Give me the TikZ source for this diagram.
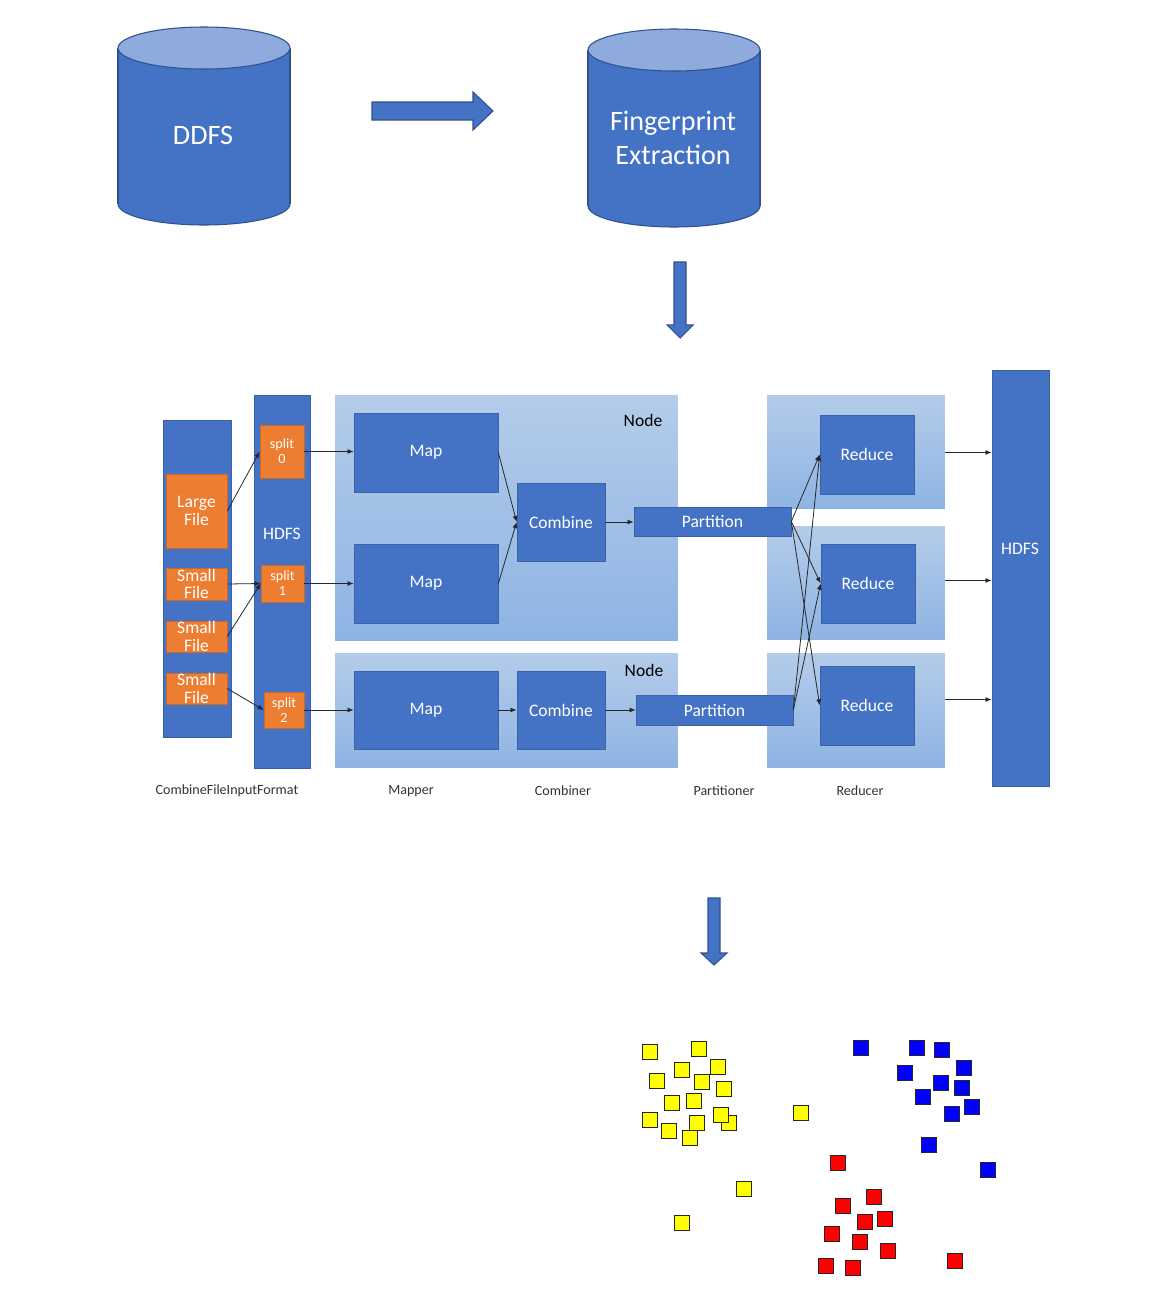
\documentclass[tikz,border=0pt]{standalone}
\usepackage{fontspec}
\setmainfont{Carlito}
\usetikzlibrary{positioning,arrows.meta,calc}

\definecolor{boxblue}{HTML}{4472C4}
\definecolor{edgeblue}{HTML}{2F528F}
\definecolor{capblue}{HTML}{8FAADC}
\definecolor{fileorange}{HTML}{ED7D31}
\definecolor{nodetop}{HTML}{B4CCEA}
\definecolor{nodebot}{HTML}{8EB4E3}
\definecolor{labelgray}{HTML}{333333}
\definecolor{dotyellow}{HTML}{FFFF00}
\definecolor{dotblue}{HTML}{0000FF}
\definecolor{dotred}{HTML}{FF0000}

% database drum: centre x, top y, bottom y
\newcommand{\datacyl}[3]{%
  \fill[boxblue] (#1-86,#2+21) rectangle (#1+86,#3-21);
  \fill[boxblue] (#1,#3-21) ellipse (86 and 21);
  \begin{scope}
    \clip (#1-90,#3-21) rectangle (#1+90,#3+5);
    \draw[edgeblue, line width=0.6pt] (#1,#3-21) ellipse (86 and 21);
  \end{scope}
  \draw[edgeblue, line width=0.6pt] (#1-86,#2+21) -- (#1-86,#3-21)
    (#1+86,#2+21) -- (#1+86,#3-21);
  \draw[edgeblue, line width=0.6pt, fill=capblue] (#1,#2+21) ellipse (86 and 21);
}

\begin{document}
\begin{tikzpicture}[x=0.02cm, y=-0.02cm]

        % one unit is one pixel of the reference, y grows downwards
        \tikzset{
            blockbox/.style={draw=edgeblue!50!boxblue, line width=0.4pt, fill=boxblue,
                text=white, inner sep=0pt, align=center, font=\fontsize{10}{10.5}\selectfont},
            filebox/.style={fill=fileorange, draw=fileorange!85!black, line width=0.3pt,
                text=white, inner sep=0pt, align=center, font=\fontsize{10}{10}\selectfont},
            splitbox/.style={filebox, font=\fontsize{8}{8.5}\selectfont},
            nodebg/.style={top color=nodetop, bottom color=nodebot, draw=none, inner sep=0pt},
            link/.style={-{Latex[length=3.5pt,width=2.8pt]}, line width=0.45pt, black!85},
            steplabel/.style={text=labelgray, font=\fontsize{8}{8}\selectfont},
            bigarrow/.style={fill=boxblue, draw=edgeblue, line width=0.6pt},
            dot/.style={draw=black!85, line width=1pt, minimum size=0.3cm, inner sep=0pt},
        }

        \useasboundingbox (0,0) rectangle (1159,1295);

        % Top row: source and extraction
        \datacyl{204}{27}{225}
        \datacyl{674}{29}{227}
        \node[text=white, font=\fontsize{16}{19.5}\selectfont] (ddfs) at (203,135) {DDFS};
        \node[text=white, align=center, font=\fontsize{16}{19.5}\selectfont] (fpx)
            at (673,138) {Fingerprint\\Extraction};

        \draw[bigarrow] (372,102) -- (473,102) -- (473,92) -- (493,111) -- (473,130)
            -- (473,120) -- (372,120) -- cycle;
        \draw[bigarrow] (674,262) -- (686,262) -- (686,325) -- (693,325) -- (680,338)
            -- (667,325) -- (674,325) -- cycle;

        % Backgrounds of the two nodes and the reducers
        \node[nodebg, minimum width=6.86cm, minimum height=4.92cm] (nodeA) at (506.5,518) {};
        \node[nodebg, minimum width=6.86cm, minimum height=2.30cm] (nodeB) at (506.5,710.5) {};
        \node[nodebg, minimum width=3.56cm, minimum height=2.28cm] (rbg1) at (856,452) {};
        \node[nodebg, minimum width=3.56cm, minimum height=2.28cm] (rbg2) at (856,583) {};
        \node[nodebg, minimum width=3.56cm, minimum height=2.30cm] (rbg3) at (856,710.5) {};
        \node[font=\fontsize{10}{10}\selectfont] (nodeAlbl) at (643,420) {Node};
        \node[font=\fontsize{10}{10}\selectfont] (nodeBlbl) at (644,670) {Node};

        % Input format and HDFS columns
        \node[blockbox, minimum width=1.36cm, minimum height=6.34cm] (infmt) at (197,578.5) {};
        \node[blockbox, minimum width=1.12cm, minimum height=7.46cm] (hdfsL) at (282,581.5) {};
        \node[text=white, font=\fontsize{10}{10}\selectfont] (hdfsLtxt) at (282,534) {HDFS};
        \node[blockbox, minimum width=1.14cm, minimum height=8.32cm] (hdfsR) at (1020.5,578) {};
        \node[text=white, font=\fontsize{10}{10}\selectfont] (hdfsRtxt) at (1020,549) {HDFS};

        \node[filebox, minimum width=1.22cm, minimum height=1.48cm] (lfile) at (196.5,511) {Large\\File};
        \node[filebox, minimum width=1.22cm, minimum height=0.64cm] (sfile1) at (196.5,584) {Small\\File};
        \node[filebox, minimum width=1.22cm, minimum height=0.62cm] (sfile2) at (196.5,636.5) {Small\\File};
        \node[filebox, minimum width=1.22cm, minimum height=0.62cm] (sfile3) at (196.5,688.5) {Small\\File};

        \node[splitbox, minimum width=0.88cm, minimum height=1.06cm] (split0) at (282,451.5) {split\\0};
        \node[splitbox, minimum width=0.86cm, minimum height=0.74cm] (split1) at (282.5,583.5) {split\\1};
        \node[splitbox, minimum width=0.80cm, minimum height=0.72cm] (split2) at (284,710) {split\\2};

        % Map, combine, partition, reduce
        \node[blockbox, minimum width=2.88cm, minimum height=1.58cm] (map1) at (426,452.5) {Map};
        \node[blockbox, minimum width=2.88cm, minimum height=1.58cm] (map2) at (426,583.5) {Map};
        \node[blockbox, minimum width=2.88cm, minimum height=1.56cm] (map3) at (426,710) {Map};
        \node[blockbox, minimum width=1.76cm, minimum height=1.56cm] (comb1) at (561,522) {Combine};
        \node[blockbox, minimum width=1.76cm, minimum height=1.56cm] (comb2) at (561,710) {Combine};
        \node[blockbox, minimum width=3.14cm, minimum height=0.58cm] (part1) at (712.5,521.5) {Partition};
        \node[blockbox, minimum width=3.14cm, minimum height=0.60cm] (part2) at (714.5,710) {Partition};
        \node[blockbox, minimum width=1.88cm, minimum height=1.58cm] (red1) at (867,454.5) {Reduce};
        \node[blockbox, minimum width=1.88cm, minimum height=1.58cm] (red2) at (868,583.5) {Reduce};
        \node[blockbox, minimum width=1.88cm, minimum height=1.58cm] (red3) at (867,705.5) {Reduce};

        % Stage names under the diagram
        \node[steplabel] (lblfmt) at (227,791) {CombineFileInputFormat};
        \node[steplabel] (lblmap) at (411,791) {Mapper};
        \node[steplabel] (lblcomb) at (563,791) {Combiner};
        \node[steplabel] (lblpart) at (724,791) {Partitioner};
        \node[steplabel] (lblred) at (860,791) {Reducer};

        % Data flow
        \begin{scope}[link]
            \draw (lfile.east) -- (split0.west);
            \draw (sfile1.east) -- (split1.west);
            \draw (sfile2.east) -- (split1.west);
            \draw (sfile3.east) -- (split2.west);
            \draw (split0.east) -- (split0.east -| map1.west);
            \draw (split1.east) -- (split1.east -| map2.west);
            \draw (split2.east) -- (split2.east -| map3.west);
            \draw (map1.east) -- (comb1.west);
            \draw (map2.east) -- (comb1.west);
            \draw (map3.east) -- (comb2.west);
            \draw (comb1.east) -- (comb1.east -| part1.west);
            \draw (comb2.east) -- (comb2.east -| part2.west);
            \draw (part1.east) -- (red1.west);
            \draw (part1.east) -- (red2.west);
            \draw (part1.east) -- (red3.west);
            \draw (part2.east) -- (red1.west);
            \draw (part2.east) -- (red2.west);
            \draw ($(rbg1.east |- red1.west)+(0,-2)$) -- ($(red1.west -| hdfsR.west)+(0,-2)$);
            \draw ($(rbg2.east |- red2.west)+(0,-3)$) -- ($(red2.west -| hdfsR.west)+(0,-3)$);
            \draw ($(rbg3.east |- red3.west)+(0,-6)$) -- ($(red3.west -| hdfsR.west)+(0,-6)$);
        \end{scope}

        \draw[bigarrow] (708,898) -- (720,898) -- (720,953) -- (727,953) -- (714,965)
            -- (701,953) -- (708,953) -- cycle;

        % Clustered fingerprints
        \foreach \px/\py [count=\i] in {650/1052, 699/1049, 682/1070, 718/1067, 657/1081,
                702/1082, 724/1089, 672/1103, 694/1101, 650/1120, 729/1123, 721/1115,
                697/1123, 669/1131, 690/1138, 801/1113, 744/1189, 682/1223}
            \node[dot, fill=dotyellow] (ya\i) at (\px,\py) {};
        \foreach \px/\py [count=\i] in {861/1048, 917/1048, 942/1050, 964/1068, 905/1073,
                941/1083, 962/1088, 923/1097, 972/1107, 952/1114, 929/1145, 988/1170}
            \node[dot, fill=dotblue] (bl\i) at (\px,\py) {};
        \foreach \px/\py [count=\i] in {838/1163, 874/1197, 843/1206, 865/1222, 885/1219,
                832/1234, 860/1242, 888/1251, 826/1266, 853/1268, 955/1261}
            \node[dot, fill=dotred] (rd\i) at (\px,\py) {};

\end{tikzpicture}
\end{document}
